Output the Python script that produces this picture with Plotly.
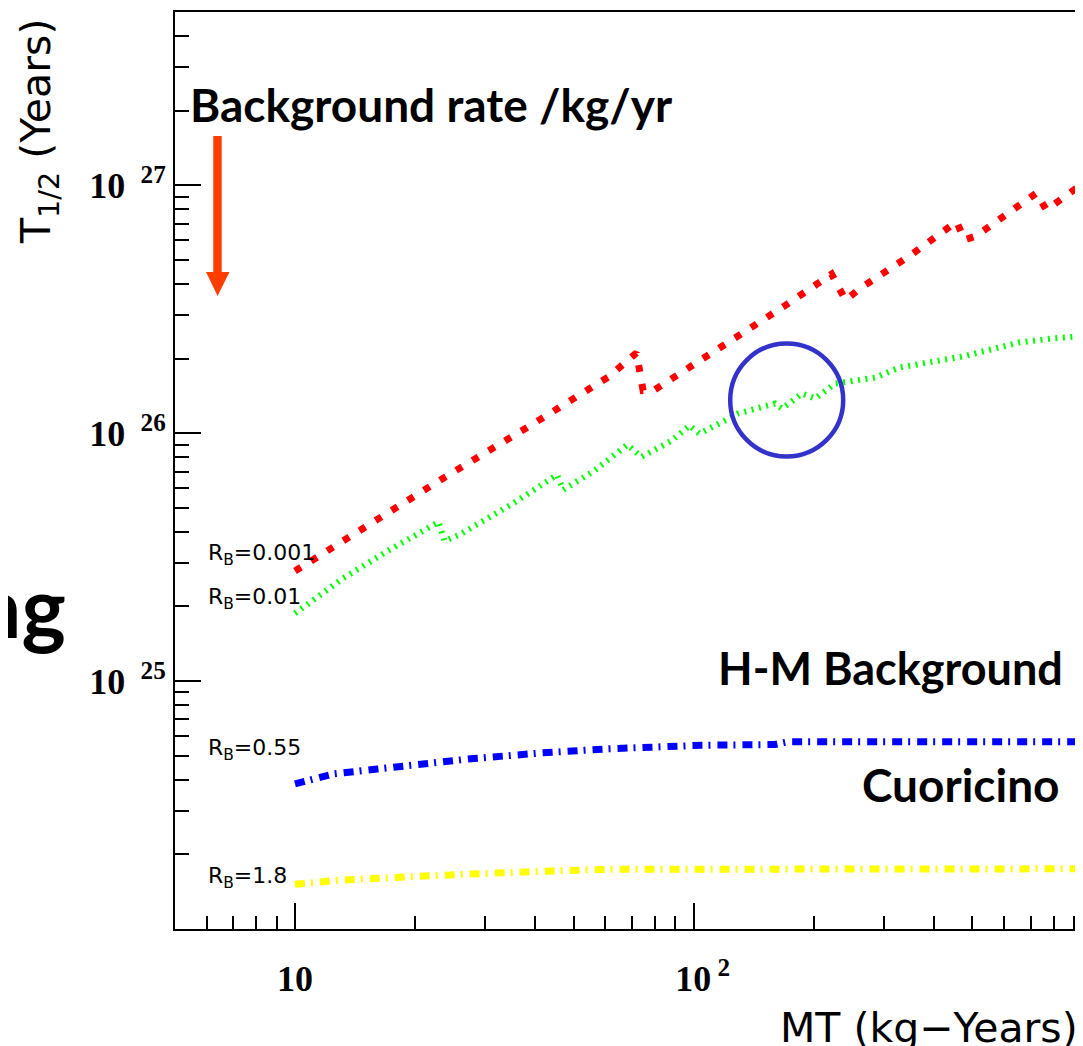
import numpy as np
import plotly.graph_objects as go

# ---------------- data ----------------
mt_rb0001 = [10, 14.84, 23.6, 38.3, 61.0, 71.9, 74.7, 79.8, 115.4, 169.2, 221.8, 240.5,
             261.5, 350.5, 457, 477.8, 511, 724, 767, 922, 1000]
t_rb0001 = [2.78e25, 4.14e25, 6.60e25, 1.056e26, 1.682e26, 2.108e26, 1.486e26, 1.496e26,
            2.178e26, 3.262e26, 4.383e26, 3.439e26, 3.836e26, 5.23e26, 7.135e26, 6.017e26,
            6.245e26, 9.30e26, 7.96e26, 9.95e26, 1.082e27]

mt_rb001 = [10, 13.21, 17.05, 22.92, 23.73, 26.04, 35.4, 45.45, 47.05, 56.3, 68.2, 73.96,
            88.0, 97.7, 103.5, 129.1, 160, 166.6, 187.1, 201.8, 226.6, 285.8, 328.4, 404.7,
            473.3, 658.5, 797.6, 1000]
t_rb001 = [1.876e25, 2.600e25, 3.345e25, 4.383e25, 3.671e25, 3.918e25, 5.232e25, 6.792e25,
           5.906e25, 7.05e25, 8.98e25, 8.03e25, 9.32e25, 1.073e26, 9.95e25, 1.199e26,
           1.317e26, 1.257e26, 1.445e26, 1.380e26, 1.586e26, 1.677e26, 1.841e26, 1.948e26,
           2.040e26, 2.325e26, 2.413e26, 2.48e26]

mt_rb055 = [10, 11.1, 12.46, 16.09, 20.64, 27.6, 41.4, 61.1, 104.8, 160, 172.5, 1000]
t_rb055 = [3.846e24, 4.03e24, 4.22e24, 4.42e24, 4.63e24, 4.86e24, 5.13e24, 5.33e24,
           5.51e24, 5.55e24, 5.69e24, 5.69e24]

mt_rb18 = [10, 12.76, 16.09, 21.0, 26.5, 41.4, 61.1, 1000]
t_rb18 = [1.514e24, 1.572e24, 1.602e24, 1.639e24, 1.662e24, 1.709e24, 1.741e24, 1.749e24]

series_labels = ["R<sub>B</sub>=0.001", "R<sub>B</sub>=0.01", "R<sub>B</sub>=0.55", "R<sub>B</sub>=1.8"]

x_major = [10, 100, 1000]
x_major_text = ["10", "&nbsp;&nbsp;10<sup>&nbsp;2</sup>", "&nbsp;&nbsp;10<sup>&nbsp;3</sup>"]
x_minor = [6, 7, 8, 9, 20, 30, 40, 50, 60, 70, 80, 90, 200, 300, 400, 500, 600, 700, 800, 900]
y_major = [1e25, 1e26, 1e27]
y_major_text = ["10&nbsp;<sup>&nbsp;25</sup>", "10&nbsp;<sup>&nbsp;26</sup>", "10&nbsp;<sup>&nbsp;27</sup>"]
y_minor = [m * 10.0 ** e for e in (24, 25, 26) for m in range(2, 10)] + [2e27, 3e27, 4e27]

# ---------------- layout geometry ----------------
# page is rendered with an 8px body margin; design in page pixels, then shift
OFF = 8
W, H = 1083, 1046
RL, RR, RT, RB = 175, 1083, 12, 929          # plot frame in page pixels
ML, MR, MT_, MB = RL - OFF, W - (RR - OFF), RT - OFF, H - (RB - OFF)


def px(x):
    return (x - RL) / (RR - RL)


def py(y):
    return 1 - (y - RT) / (RB - RT)


TEXT_FONT = "Comic Sans MS, Lato, DejaVu Sans"
TICK_FONT = "Liberation Serif, Times New Roman, serif"
AX_FONT = "DejaVu Sans, Arial, sans-serif"

fig = go.Figure()

fig.add_trace(go.Scatter(x=mt_rb0001, y=t_rb0001, mode="lines", name="Rb=0.001",
                         line=dict(color="#ff0000", width=7, dash="7px,12px")))
fig.add_trace(go.Scatter(x=mt_rb001, y=t_rb001, mode="lines", name="Rb=0.01",
                         line=dict(color="#00ff00", width=6, dash="2px,5.5px")))
fig.add_trace(go.Scatter(x=mt_rb055, y=t_rb055, mode="lines", name="Rb=0.55",
                         line=dict(color="#0000ff", width=7, dash="10px,6px,2px,7px")))
fig.add_trace(go.Scatter(x=mt_rb18, y=t_rb18, mode="lines", name="Rb=1.8",
                         line=dict(color="#ffff00", width=7, dash="10px,6px,2px,7px")))

axis_common = dict(
    type="log", showline=True, linecolor="black", linewidth=2,
    ticks="inside", ticklen=26, tickwidth=2, tickcolor="black",
    showgrid=False, zeroline=False, automargin=False,
    tickfont=dict(family=TICK_FONT, size=36, color="black", weight="bold"),
)

fig.update_xaxes(
    **axis_common, mirror=True,
    range=[np.log10(5), np.log10(5) + (RR - RL) * np.log10(2) / (295 - RL)],
    tickmode="array", tickvals=x_major, ticktext=x_major_text,
    ticklabelstandoff=17,
    minor=dict(tickmode="array", tickvals=x_minor, ticks="inside", ticklen=13,
               tickwidth=2, tickcolor="black", showgrid=False),
)
fig.update_yaxes(
    **axis_common, mirror=False,
    range=[24, np.log10(5e27)],
    tickmode="array", tickvals=y_major, ticktext=y_major_text,
    ticklabelstandoff=0,
    minor=dict(tickmode="array", tickvals=y_minor, ticks="inside", ticklen=14,
               tickwidth=2, tickcolor="black", showgrid=False),
)

ann = []
lab_pos = [(206, 554), (206, 598), (206, 749), (206, 877)]
for txt, (lx, ly) in zip(series_labels, lab_pos):
    ann.append(dict(x=px(lx), y=py(ly), xref="paper", yref="paper", text=txt,
                    showarrow=False, xanchor="left", yanchor="middle",
                    font=dict(family="DejaVu Sans, Arial", size=22, color="black")))

big = dict(family=TEXT_FONT, size=46, color="black", weight="bold")
ann.append(dict(x=px(188), y=py(104), xref="paper", yref="paper", text="Background rate /kg/yr",
                showarrow=False, xanchor="left", yanchor="middle", font=big))
ann.append(dict(x=px(716), y=py(668), xref="paper", yref="paper", text="H-M Background",
                showarrow=False, xanchor="left", yanchor="middle",
                font=dict(family=TEXT_FONT, size=45, color="black", weight="bold")))
ann.append(dict(x=px(860), y=py(784), xref="paper", yref="paper", text="Cuoricino",
                showarrow=False, xanchor="left", yanchor="middle", font=big))
ann.append(dict(x=px(68), y=py(605), xref="paper", yref="paper", text="ng",
                showarrow=False, xanchor="right", yanchor="middle",
                font=dict(family=TEXT_FONT, size=84, color="black", weight="bold")))

ann.append(dict(x=px(39), y=py(132), xref="paper", yref="paper", text="T<sub>1/2</sub> (Years)",
                showarrow=False, xanchor="center", yanchor="middle", textangle=-90,
                font=dict(family=AX_FONT, size=41, color="black")))
ann.append(dict(x=px(778), y=py(1028), xref="paper", yref="paper", text="MT (kg\u2212Years)",
                showarrow=False, xanchor="left", yanchor="middle",
                font=dict(family=AX_FONT, size=41, color="black")))

shapes = []
ac = "#ff3d00"
shapes.append(dict(type="rect", xref="paper", yref="paper",
                   x0=px(213.3), x1=px(221.7), y0=py(136), y1=py(273),
                   fillcolor=ac, line=dict(width=0)))
shapes.append(dict(type="path", xref="paper", yref="paper",
                   path=f"M {px(206)} {py(272)} L {px(229.5)} {py(272)} L {px(217.6)} {py(296)} Z",
                   fillcolor=ac, line=dict(width=0)))
cx, cy, r = 786.7, 400, 56.5
shapes.append(dict(type="circle", xref="paper", yref="paper",
                   x0=px(cx - r), x1=px(cx + r), y0=py(cy + r), y1=py(cy - r),
                   line=dict(color="#3333cc", width=4.5)))

fig.update_layout(width=W, height=H, margin=dict(l=ML, r=MR, t=MT_, b=MB),
                  paper_bgcolor="white", plot_bgcolor="white", showlegend=False,
                  annotations=ann, shapes=shapes)

fig.write_html("out.html")
